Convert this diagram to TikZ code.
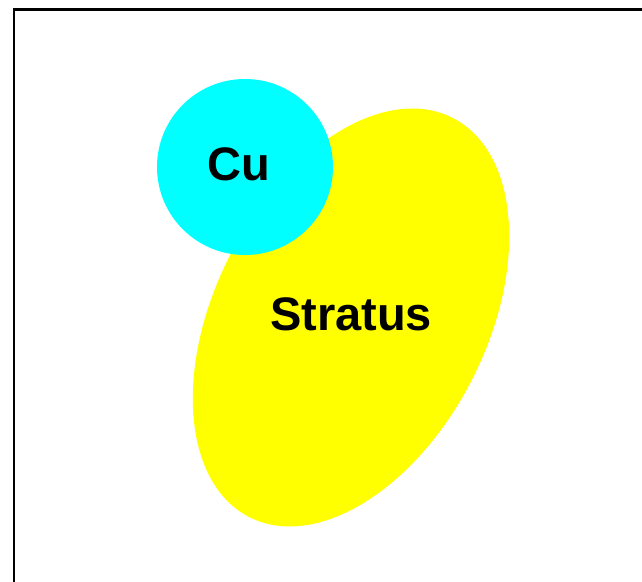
\documentclass[tikz,border=0pt]{standalone}
\usepackage{fontspec}
\setmainfont{Liberation Sans}
\usetikzlibrary{shapes.geometric}
\definecolor{pureyellow}{RGB}{255,255,0}
\definecolor{purecyan}{RGB}{0,255,255}
\tikzset{
  blob/.style={draw=none, inner sep=0pt, outer sep=0pt},
  lbl/.style={inner sep=0pt, font=\fontsize{47}{51}\selectfont\bfseries, text=black}
}
\begin{document}
\begin{tikzpicture}[x=1pt,y=1pt]
\useasboundingbox (0,0) rectangle (642,581);
\clip (0,0) rectangle (642,581);
\fill[white] (0,0) rectangle (642,581);
\draw[line width=2.5pt] (14,-20) -- (14,571.5) -- (670,571.5);
\node[blob, ellipse, fill=pureyellow, minimum width=448pt, minimum height=272pt, rotate=63] (stratusshape) at (351,263.5) {};
\node[blob, circle, fill=purecyan, minimum size=176pt] (cushape) at (245,414) {};
\node[lbl] (cu) at (239,417) {Cu};
\node[lbl] (stratus) at (351,267) {Stratus};
\end{tikzpicture}
\end{document}
